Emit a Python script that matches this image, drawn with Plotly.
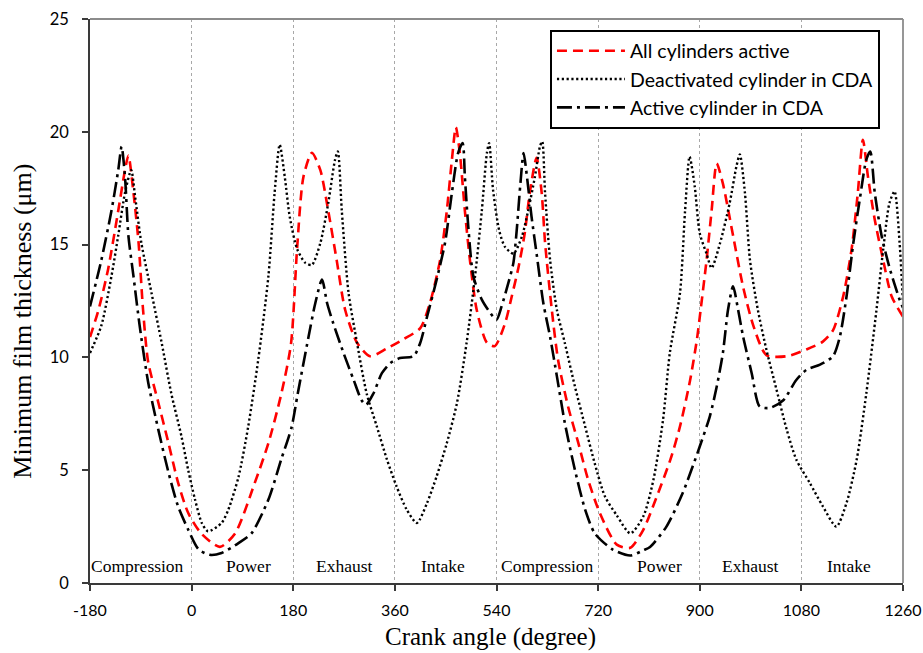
import plotly.graph_objects as go

# ---------------- data ----------------
red_x = [-180, -165, -148, -130, -118, -112, -103, -94, -86, -77, -59, -41, -24, -6, 17, 50, 77, 112,
         136, 159, 176, 187, 198, 213, 228, 242, 257, 272, 293, 316, 346, 375, 405, 422, 440, 452,
         461, 468, 475, 484, 493, 505, 523, 537, 555, 567, 579, 590, 599, 611, 620, 626, 638, 649,
         667, 685, 702, 723, 753, 777, 800, 824, 848, 865, 883, 895, 902, 912, 921, 930, 941, 959, 977,
         995, 1018, 1054, 1089, 1118, 1136, 1154, 1169, 1180, 1189, 1198, 1210, 1225, 1240, 1260]
red_y = [10.9, 12.1, 13.9, 16.5, 18.3, 18.95, 17.3, 15.1, 12.1, 9.8, 8.0, 6.2, 4.45, 3.1, 2.2, 1.6, 2.2, 4.45,
         6.2, 8.4, 10.6, 14.9, 18.0, 19.07, 18.3, 16.5, 14.3, 12.1, 10.65, 10.05, 10.4, 10.8, 11.3, 12.4, 14.3, 16.5,
         18.76, 20.2, 19.07, 16.5, 14.3, 12.1, 10.65, 10.5, 11.5, 12.7, 14.0, 15.5, 17.3, 18.85, 17.3, 15.1, 12.1, 9.9,
         7.8, 6.2, 4.6, 3.1, 1.7, 1.56, 2.36, 3.84, 5.47, 6.94, 9.0, 10.8, 12.2, 14.3, 16.5, 18.6, 17.7, 15.4, 13.1,
         11.4, 10.1, 10.05, 10.35, 10.7, 11.2, 12.7, 14.8, 17.3, 19.65, 18.0, 16.1, 14.3, 12.7, 11.8]

deact_x = [-180, -160, -142, -130, -118, -107, -100, -89, -71, -53, -36, -18, -6, 6, 18, 29, 53, 65, 83,
           100, 118, 136, 147, 156, 165, 174, 187, 201, 213, 228, 242, 254, 259, 266, 278, 293, 310,
           328, 346, 363, 381, 399, 417, 434, 452, 470, 487, 502, 514, 523, 527, 534, 545, 555, 570,
           585, 596, 608, 617, 621, 626, 635, 647, 661, 679, 697, 714, 732, 753, 777, 800, 818, 835,
           847, 865, 874, 882, 891, 900, 912, 921, 936, 953, 965, 971, 980, 989, 1003, 1018, 1036,
           1054, 1071, 1095, 1118, 1142, 1160, 1178, 1195, 1213, 1225, 1236, 1245, 1254, 1260]
deact_y = [10.2, 11.4, 13.6, 15.4, 17.3, 18.3, 17.1, 15.07, 12.85, 10.64, 8.4, 6.5, 5.0, 3.7, 2.66, 2.29, 2.66, 3.25, 4.7,
           6.9, 9.9, 13.6, 17.3, 19.43, 18.0, 16.2, 14.8, 14.2, 14.1, 15.07, 16.84, 18.76, 19.13, 16.5, 12.85, 10.64, 8.4,
           6.94, 5.47, 4.28, 3.25, 2.66, 3.55, 4.73, 6.2, 7.98, 10.64, 13.6, 16.5, 19.06, 19.5, 17.4, 15.6, 14.9, 14.6,
           15.36, 16.5, 18.0, 19.35, 19.57, 17.3, 14.3, 12.1, 10.64, 8.7, 6.94, 5.3, 3.84, 3.0, 2.2, 2.95, 4.58, 7.24,
           10.2, 12.85, 16.5, 18.9, 17.6, 15.5, 14.6, 13.96, 15.07, 16.84, 18.47, 19.0, 17.3, 14.3, 12.1, 10.35, 8.57,
           6.8, 5.47, 4.43, 3.4, 2.5, 3.55, 5.47, 8.4, 12.1, 14.8, 16.84, 17.36, 15.07, 12.4]

act_x = [-180, -160, -142, -130, -124, -118, -112, -103, -92, -77, -59, -41, -24, -6, 12, 32, 53, 83, 106,
         136, 159, 177, 188, 207, 219, 231, 240, 251, 269, 287, 301, 309, 322, 337, 352, 369, 393,
         405, 417, 434, 449, 461, 472, 480, 484, 490, 499, 514, 529, 540, 549, 561, 570, 576, 582,
         588, 594, 602, 611, 623, 635, 647, 661, 679, 697, 714, 746, 777, 800, 812, 841, 870,
         888, 900, 918, 930, 941, 950, 959, 968, 977, 992, 1006, 1024, 1048, 1071, 1089, 1113, 1136,
         1148, 1160, 1172, 1184, 1195, 1202, 1210, 1222, 1237, 1254, 1260]
act_y = [12.26, 14.3, 16.5, 18.3, 19.35, 18.0, 15.4, 13.6, 11.4, 8.9, 6.8, 4.9, 3.4, 2.36, 1.5, 1.25, 1.33, 1.77, 2.2,
         3.7, 5.5, 6.9, 8.4, 10.9, 12.4, 13.45, 12.4, 11.5, 10.2, 9.0, 8.1, 7.9, 8.4, 9.3, 9.75, 9.97, 10.05,
         10.65, 11.8, 13.45, 15.1, 17.3, 19.06, 19.5, 18.0, 15.8, 13.6, 12.56, 11.97, 11.67, 12.26, 13.3, 14.2, 15.7, 17.6,
         19.06, 18.0, 16.25, 14.6, 12.4, 10.9, 9.16, 7.1, 5.0, 3.25, 2.2, 1.48, 1.22, 1.45, 1.6, 2.5, 4.0,
         5.2, 6.05, 7.4, 8.7, 10.2, 12.1, 13.15, 12.1, 10.9, 9.3, 7.83, 7.76, 8.1, 9.0, 9.45, 9.68, 10.05,
         10.9, 12.7, 15.07, 17.1, 18.76, 19.13, 17.3, 15.4, 13.9, 12.56, 12.2]

series_names = ["All cylinders active", "Deactivated cylinder in CDA", "Active cylinder in CDA"]

phase_labels = ["Compression", "Power", "Exhaust", "Intake",
                "Compression", "Power", "Exhaust", "Intake"]
phase_x = [-95, 100, 270, 446, 630, 828, 989, 1165]

x_ticks = [-180, 0, 180, 360, 540, 720, 900, 1080, 1260]
y_ticks = [0, 5, 10, 15, 20, 25]

x_title = "Crank angle (degree)"
y_title = "Minimum film thickness (μm)"

# ---------------- figure ----------------
fig = go.Figure()
fig.add_trace(go.Scatter(x=red_x, y=red_y, mode="lines", name=series_names[0],
                         line=dict(color="#ff0000", width=2.6, dash="10px,6px", shape="spline", smoothing=0.7)))
fig.add_trace(go.Scatter(x=deact_x, y=deact_y, mode="lines", name=series_names[1],
                         line=dict(color="#000000", width=2.4, dash="2.2px,2.6px", shape="spline", smoothing=0.7)))
fig.add_trace(go.Scatter(x=act_x, y=act_y, mode="lines", name=series_names[2],
                         line=dict(color="#000000", width=2.6, dash="15px,5px,3px,5px", shape="spline", smoothing=0.7)))

for lbl, px in zip(phase_labels, phase_x):
    fig.add_annotation(x=px, y=0.74, xref="x", yref="y", text=lbl, showarrow=False,
                       font=dict(family="Liberation Serif", size=17.5, color="black"))

# axis titles
fig.add_annotation(x=0.4926, y=-0.095, xref="paper", yref="paper", text=x_title, showarrow=False,
                   xanchor="center", yanchor="middle",
                   font=dict(family="Liberation Serif", size=25, color="black"))
fig.add_annotation(x=-0.0832, y=0.464, xref="paper", yref="paper", text=y_title, showarrow=False,
                   textangle=-90, xanchor="center", yanchor="middle",
                   font=dict(family="Liberation Serif", size=26, color="black"))

# top & right gray frame
fig.add_shape(type="line", xref="paper", yref="paper", x0=0, x1=1, y0=1, y1=1,
              line=dict(color="#8c8c8c", width=1.8))
fig.add_shape(type="line", xref="paper", yref="paper", x0=1, x1=1, y0=0, y1=1,
              line=dict(color="#8c8c8c", width=1.8))

fig.update_layout(
    width=923, height=653,
    margin=dict(l=90, r=20, t=19, b=70),
    paper_bgcolor="white", plot_bgcolor="white",
    showlegend=True,
    legend=dict(x=0.566, y=0.981, xanchor="left", yanchor="top",
                bgcolor="white", bordercolor="black", borderwidth=1.8,
                font=dict(family="Lato", size=19.5, color="black"),
                itemwidth=68, tracegroupgap=0),
    xaxis=dict(range=[-180, 1260], tickvals=x_ticks, ticktext=[str(v) for v in x_ticks],
               automargin=False, ticklabeloverflow="allow",
               showgrid=True, gridcolor="#a8a8a8", griddash="dot", gridwidth=1,
               zeroline=False, showline=True, linecolor="#3a3a3a", linewidth=1.8,
               ticks="outside", ticklen=6, tickcolor="#3a3a3a", tickwidth=1.5, ticklabelstandoff=6,
               tickfont=dict(family="Lato", size=16, color="black")),
    yaxis=dict(range=[0, 25], tickvals=y_ticks, showgrid=False, zeroline=False, automargin=False,
               ticklabeloverflow="allow",
               showline=True, linecolor="#3a3a3a", linewidth=1.8,
               ticks="outside", ticklen=6, tickcolor="#3a3a3a", tickwidth=1.5, ticklabelstandoff=10,
               tickfont=dict(family="Lato", size=16.5, color="black")),
)

fig.write_html("out.html",
               config={"displayModeBar": False},
               post_script="document.body.style.margin='0';document.body.style.overflow='hidden';")
